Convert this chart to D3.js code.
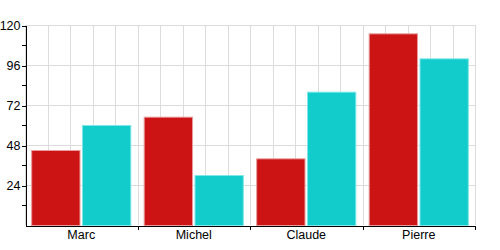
<!DOCTYPE html>
<html>
  <head>
    <meta charset="UTF-8">
    <script src="https://d3js.org/d3.v7.min.js"></script>
    <style>
      body { margin: 0; background: #fff; }
      svg { display: block; font-family: "Liberation Sans", Arial, sans-serif; }
      .grid line { stroke: #dcdcdc; stroke-width: 1; shape-rendering: crispEdges; }
      .axis path, .axis line { stroke: #000; shape-rendering: crispEdges; }
      .axis text { font-size: 12.5px; fill: #000; }
    </style>
  </head>
  <body>
<svg width="500" height="250"></svg>
<script>

var categories = ["Marc", "Michel", "Claude", "Pierre"];
var seriesA = [45, 65, 40, 115];
var seriesB = [60, 30, 80, 100];
var yMajor = [24, 48, 72, 96, 120];
var yMinor = [12, 36, 60, 84, 108];

var svg = d3.select("svg"),
    margin = {top: 25, right: 25, bottom: 25, left: 25},
    width = +svg.attr("width") - margin.left - margin.right,
    height = +svg.attr("height") - margin.top - margin.bottom;

var g = svg.append("g")
    .attr("transform", "translate(" + margin.left + "," + margin.top + ")");

var xg = d3.scaleBand().domain(categories).range([0, width]);
var x0 = xg.copy().paddingInner(0.11).paddingOuter(0.055);
var x1 = d3.scaleBand().domain(["a", "b"]).range([0, x0.bandwidth()]).paddingInner(0.03);
var y = d3.scaleLinear().domain([0, 120]).range([height, 0]);

// grid: 5 columns per category
var xs = d3.scaleLinear().domain([0, categories.length * 5]).range([0, width]);

g.append("g").attr("class", "grid")
  .selectAll("line.v")
  .data(d3.range(0, categories.length * 5 + 1))
  .enter().append("line")
    .attr("x1", function(d) { return Math.round(xs(d)) + 0.5; })
    .attr("x2", function(d) { return Math.round(xs(d)) + 0.5; })
    .attr("y1", 0)
    .attr("y2", height);

g.select(".grid")
  .selectAll("line.h")
  .data(yMajor)
  .enter().append("line")
    .attr("x1", 0)
    .attr("x2", width)
    .attr("y1", function(d) { return y(d) + 0.5; })
    .attr("y2", function(d) { return y(d) + 0.5; });

var rows = categories.map(function(c, i) { return {name: c, a: seriesA[i], b: seriesB[i]}; });

var grp = g.selectAll(".grp")
  .data(rows)
  .enter().append("g")
    .attr("transform", function(d) { return "translate(" + x0(d.name) + ",0)"; });

grp.append("rect")
    .attr("x", x1("a") + 0.5)
    .attr("y", function(d) { return y(d.a) + 0.5; })
    .attr("width", x1.bandwidth() - 1)
    .attr("height", function(d) { return height - y(d.a); })
    .attr("fill", "#cc1414")
    .attr("stroke", "#e89a9a");

grp.append("rect")
    .attr("x", x1("b") + 0.5)
    .attr("y", function(d) { return y(d.b) + 0.5; })
    .attr("width", x1.bandwidth() - 1)
    .attr("height", function(d) { return height - y(d.b); })
    .attr("fill", "#12cccc")
    .attr("stroke", "#7ee6e6");

// y axis
var yAxis = g.append("g")
    .attr("class", "axis")
    .attr("transform", "translate(0.5,0.5)")
    .call(d3.axisLeft(y).tickValues(yMajor).tickSize(4).tickSizeOuter(0).tickPadding(1));

yAxis.selectAll(".minor")
  .data(yMinor)
  .enter().append("line")
    .attr("class", "minor")
    .attr("x1", -4)
    .attr("x2", 0)
    .attr("y1", function(d) { return y(d); })
    .attr("y2", function(d) { return y(d); });

// x axis: labels at centres, ticks at category boundaries
var xAxis = g.append("g")
    .attr("class", "axis")
    .attr("transform", "translate(0," + (height + 0.5) + ")")
    .call(d3.axisBottom(xg).tickSize(0).tickSizeOuter(0).tickPadding(5));

xAxis.selectAll(".bound")
  .data(categories.slice(1).concat(["end"]))
  .enter().append("line")
    .attr("class", "bound")
    .attr("x1", function(d, i) { return Math.round(xg.step() * (i + 1)) + 0.5; })
    .attr("x2", function(d, i) { return Math.round(xg.step() * (i + 1)) + 0.5; })
    .attr("y1", 0)
    .attr("y2", 4);

</script>
  </body>
</html>
